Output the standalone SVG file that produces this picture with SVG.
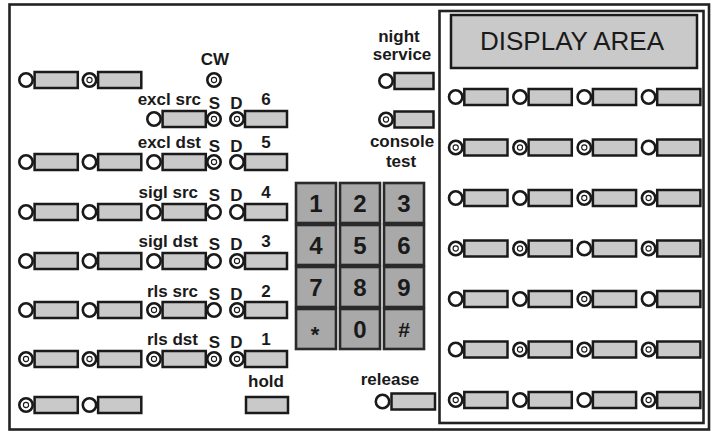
<svg xmlns="http://www.w3.org/2000/svg" width="713" height="433" viewBox="0 0 713 433">
<defs>
<style>
.frame{fill:#fff;stroke:#222;stroke-width:2.6}
.lamp{fill:#fff;stroke:#1a1a1a;stroke-width:2.6}
.dot{fill:#fff;stroke:#1a1a1a;stroke-width:1.1}
.btn{fill:#c9c9c9;stroke:#1a1a1a;stroke-width:2.5}
.key{fill:#a9a9a9;stroke:#2a2a2a;stroke-width:2.6}
.lbl{font-family:"Liberation Sans",Arial,sans-serif;font-weight:bold;font-size:17px;fill:#1a1a1a}
.kl{font-family:"Liberation Sans",Arial,sans-serif;font-weight:bold;font-size:24px;fill:#1a1a1a;text-anchor:middle}
.disp{font-family:"Liberation Sans",Arial,sans-serif;font-size:26px;fill:#1a1a1a;text-anchor:middle}
</style>
<g id="uo"><circle class="lamp" cx="0" cy="0" r="6.7"/><rect class="btn" x="8.6" y="-8" width="43.2" height="16"/></g>
<g id="ud"><circle class="lamp" cx="0" cy="0" r="6.7"/><circle class="dot" cx="0" cy="0" r="2.6"/><rect class="btn" x="8.6" y="-8" width="43.2" height="16"/></g>
<g id="lo"><circle class="lamp" cx="0" cy="0" r="6.7"/></g>
<g id="ld"><circle class="lamp" cx="0" cy="0" r="6.7"/><circle class="dot" cx="0" cy="0" r="2.6"/></g>
</defs>

<rect class="frame" x="9.5" y="4.5" width="699.5" height="425"/>

<g id="display-panel">
<rect class="frame" x="439.5" y="11" width="264" height="412"/>
<rect class="btn" x="451" y="15" width="246" height="53"/>
<text class="disp" x="572" y="50">DISPLAY AREA</text>
</g>

<g id="display-buttons">
<use href="#uo" x="455.7" y="97"/><use href="#uo" x="520" y="97"/><use href="#uo" x="584.3" y="97"/><use href="#uo" x="648.6" y="97"/>
<use href="#ud" x="455.7" y="147.5"/><use href="#ud" x="520" y="147.5"/><use href="#ud" x="584.3" y="147.5"/><use href="#uo" x="648.6" y="147.5"/>
<use href="#uo" x="455.7" y="198"/><use href="#uo" x="520" y="198"/><use href="#ud" x="584.3" y="198"/><use href="#ud" x="648.6" y="198"/>
<use href="#ud" x="455.7" y="248.5"/><use href="#ud" x="520" y="248.5"/><use href="#uo" x="584.3" y="248.5"/><use href="#ud" x="648.6" y="248.5"/>
<use href="#uo" x="455.7" y="299"/><use href="#uo" x="520" y="299"/><use href="#ud" x="584.3" y="299"/><use href="#uo" x="648.6" y="299"/>
<use href="#uo" x="455.7" y="349.5"/><use href="#ud" x="520" y="349.5"/><use href="#ud" x="584.3" y="349.5"/><use href="#ud" x="648.6" y="349.5"/>
<use href="#ud" x="455.7" y="400"/><use href="#uo" x="520" y="400"/><use href="#uo" x="584.3" y="400"/><use href="#ud" x="648.6" y="400"/>
</g>

<g id="row-a">
<use href="#uo" x="26" y="80"/><use href="#ud" x="89.5" y="80"/>
<text class="lbl" x="215" y="65" text-anchor="middle">CW</text>
<use href="#ld" x="214" y="80"/>
</g>

<g id="row-excl-src">
<text class="lbl" x="201" y="105" text-anchor="end">excl src</text>
<text class="lbl" x="214.5" y="109" text-anchor="middle">S</text>
<text class="lbl" x="236.5" y="109" text-anchor="middle">D</text>
<text class="lbl" x="266" y="105" text-anchor="middle">6</text>
<use href="#uo" x="154" y="119"/><use href="#ld" x="214" y="119"/><use href="#ld" x="237" y="119"/>
<rect class="btn" x="245" y="111" width="42" height="16"/>
</g>

<g id="row-excl-dst">
<text class="lbl" x="201" y="148" text-anchor="end">excl dst</text>
<text class="lbl" x="214.5" y="152" text-anchor="middle">S</text>
<text class="lbl" x="236.5" y="152" text-anchor="middle">D</text>
<text class="lbl" x="266" y="148" text-anchor="middle">5</text>
<use href="#uo" x="26" y="162"/><use href="#uo" x="89.5" y="162"/><use href="#uo" x="154" y="162"/>
<use href="#ld" x="214" y="162"/><use href="#lo" x="237" y="162"/>
<rect class="btn" x="245" y="154" width="42" height="16"/>
</g>

<g id="row-sigl-src">
<text class="lbl" x="198" y="198" text-anchor="end">sigl src</text>
<text class="lbl" x="214.5" y="201" text-anchor="middle">S</text>
<text class="lbl" x="236.5" y="201" text-anchor="middle">D</text>
<text class="lbl" x="266" y="198" text-anchor="middle">4</text>
<use href="#uo" x="26" y="212"/><use href="#uo" x="89.5" y="212"/><use href="#uo" x="154" y="212"/>
<use href="#lo" x="214" y="212"/><use href="#lo" x="237" y="212"/>
<rect class="btn" x="245" y="204" width="42" height="16"/>
</g>

<g id="row-sigl-dst">
<text class="lbl" x="198" y="247" text-anchor="end">sigl dst</text>
<text class="lbl" x="214.5" y="250" text-anchor="middle">S</text>
<text class="lbl" x="236.5" y="250" text-anchor="middle">D</text>
<text class="lbl" x="266" y="247" text-anchor="middle">3</text>
<use href="#uo" x="26" y="261"/><use href="#uo" x="89.5" y="261"/><use href="#uo" x="154" y="261"/>
<use href="#lo" x="214" y="261"/><use href="#ld" x="237" y="261"/>
<rect class="btn" x="245" y="253" width="42" height="16"/>
</g>

<g id="row-rls-src">
<text class="lbl" x="198" y="297" text-anchor="end">rls src</text>
<text class="lbl" x="214.5" y="300" text-anchor="middle">S</text>
<text class="lbl" x="236.5" y="300" text-anchor="middle">D</text>
<text class="lbl" x="266" y="297" text-anchor="middle">2</text>
<use href="#uo" x="26" y="310"/><use href="#uo" x="89.5" y="310"/><use href="#ud" x="154" y="310"/>
<use href="#lo" x="214" y="310"/><use href="#ld" x="237" y="310"/>
<rect class="btn" x="245" y="302" width="42" height="16"/>
</g>

<g id="row-rls-dst">
<text class="lbl" x="198" y="345" text-anchor="end">rls dst</text>
<text class="lbl" x="214.5" y="348" text-anchor="middle">S</text>
<text class="lbl" x="236.5" y="348" text-anchor="middle">D</text>
<text class="lbl" x="266" y="345" text-anchor="middle">1</text>
<use href="#ud" x="26" y="359"/><use href="#ud" x="89.5" y="359"/><use href="#ud" x="154" y="359"/>
<use href="#ld" x="214" y="359"/><use href="#ld" x="237" y="359"/>
<rect class="btn" x="245" y="351" width="42" height="16"/>
</g>

<g id="row-h">
<use href="#ud" x="26" y="405"/><use href="#uo" x="89.5" y="405"/>
</g>

<g id="hold">
<text class="lbl" x="266" y="387" text-anchor="middle">hold</text>
<rect class="btn" x="246" y="397" width="42" height="16"/>
</g>

<g id="night-service">
<text class="lbl" x="399" y="42" text-anchor="middle">night</text>
<text class="lbl" x="402" y="59.5" text-anchor="middle">service</text>
<use href="#lo" x="386" y="81"/>
<rect class="btn" x="394.5" y="73" width="39" height="16"/>
</g>

<g id="console-test">
<use href="#ld" x="386" y="119.5"/>
<rect class="btn" x="394.5" y="111.5" width="39" height="16"/>
<text class="lbl" x="402" y="147" text-anchor="middle">console</text>
<text class="lbl" x="401" y="167" text-anchor="middle">test</text>
</g>

<g id="keypad">
<rect class="key" x="296" y="183" width="40" height="40"/><text class="kl" x="316" y="212">1</text>
<rect class="key" x="340" y="183" width="40" height="40"/><text class="kl" x="360" y="212">2</text>
<rect class="key" x="384" y="183" width="40" height="40"/><text class="kl" x="404" y="212">3</text>
<rect class="key" x="296" y="225" width="40" height="40"/><text class="kl" x="316" y="254">4</text>
<rect class="key" x="340" y="225" width="40" height="40"/><text class="kl" x="360" y="254">5</text>
<rect class="key" x="384" y="225" width="40" height="40"/><text class="kl" x="404" y="254">6</text>
<rect class="key" x="296" y="267" width="40" height="40"/><text class="kl" x="316" y="296">7</text>
<rect class="key" x="340" y="267" width="40" height="40"/><text class="kl" x="360" y="296">8</text>
<rect class="key" x="384" y="267" width="40" height="40"/><text class="kl" x="404" y="296">9</text>
<rect class="key" x="296" y="309" width="40" height="40"/><text class="kl" x="315" y="342" style="font-size:22px">*</text>
<rect class="key" x="340" y="309" width="40" height="40"/><text class="kl" x="360" y="338">0</text>
<rect class="key" x="384" y="309" width="40" height="40"/><text class="kl" x="404" y="337" style="font-size:21px">#</text>
</g>

<g id="release">
<text class="lbl" x="390" y="385" text-anchor="middle">release</text>
<use href="#lo" x="382.5" y="401.5"/>
<rect class="btn" x="391.5" y="393.5" width="43.5" height="16"/>
</g>
</svg>
